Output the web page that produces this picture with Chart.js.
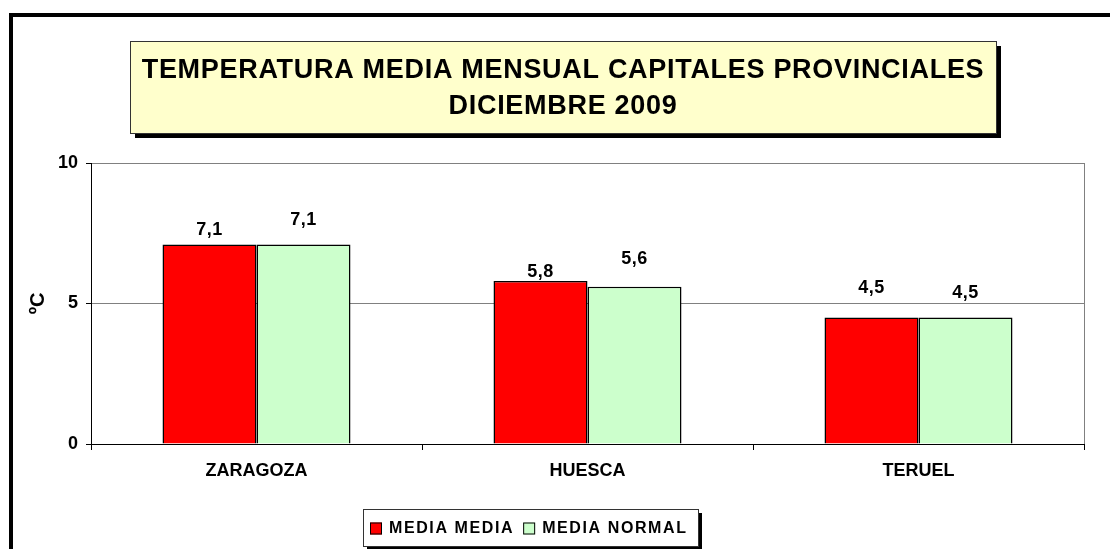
<!DOCTYPE html>
<html>
<head>
<meta charset="utf-8">
<script src="https://cdn.jsdelivr.net/npm/chart.js@4/dist/chart.umd.min.js"></script>
<style>
  html, body { margin: 0; padding: 0; background: #fff; }
  #wrap { width: 1110px; height: 549px; }
</style>
</head>
<body>
<div id="wrap"><canvas id="chart" width="1110" height="549"></canvas></div>
<script>
// Data
const TITLE_LINES = ["TEMPERATURA MEDIA MENSUAL CAPITALES PROVINCIALES", "DICIEMBRE 2009"];
const CITIES = ["ZARAGOZA", "HUESCA", "TERUEL"];
const MEDIA_MEDIA = [7.1, 5.8, 4.5];
const MEDIA_NORMAL = [7.1, 5.6, 4.5];
const SERIES_LABELS = ["MEDIA MEDIA", "MEDIA NORMAL"];
const Y_MIN = 0;
const Y_MAX = 10;
const Y_STEP = 5;
const Y_TITLE = "ºC";

// The value labels in the original were nudged by hand, so each one
// sits a different distance (px) above its bar.
const LABEL_LIFT = [
    [9, 4, 25],
    [19, 23, 20],
];

const FONT = 'Arial, "Liberation Sans", sans-serif';
Chart.defaults.font.family = FONT;
Chart.defaults.color = "#000";

// Outer frame, yellow title box, value labels and boxed legend
const framePlugin = {
    id: "frame",
    beforeDraw(chart) {
        const ctx = chart.ctx;
        ctx.save();
        ctx.fillStyle = "#fff";
        ctx.fillRect(0, 0, chart.width, chart.height);

        // thick outer border (only top and left fall inside the picture)
        ctx.strokeStyle = "#000";
        ctx.lineWidth = 4;
        ctx.strokeRect(11, 15, chart.width + 20, chart.height + 20);

        // title box with shadow
        const bx = 130, by = 41, bw = 866, bh = 92;
        ctx.fillStyle = "#000";
        ctx.fillRect(bx + 5, by + 5, bw, bh);
        ctx.fillStyle = "#FFFFCC";
        ctx.fillRect(bx, by, bw, bh);
        ctx.strokeStyle = "#333";
        ctx.lineWidth = 1;
        ctx.strokeRect(bx + 0.5, by + 0.5, bw, bh);

        ctx.fillStyle = "#000";
        ctx.font = "bold 27px " + FONT;
        ctx.letterSpacing = "0.7px";
        ctx.textAlign = "center";
        ctx.textBaseline = "alphabetic";
        ctx.fillText(TITLE_LINES[0], 563, 78);
        ctx.fillText(TITLE_LINES[1], 563, 114);
        ctx.restore();
    },
    afterDatasetsDraw(chart) {
        const ctx = chart.ctx;
        const area = chart.chartArea;
        ctx.save();
        // grey right edge of the plot area
        ctx.strokeStyle = "#808080";
        ctx.lineWidth = 1;
        ctx.beginPath();
        ctx.moveTo(Math.round(area.right) + 0.5, area.top);
        ctx.lineTo(Math.round(area.right) + 0.5, area.bottom);
        ctx.stroke();

        // value labels above the bars
        ctx.fillStyle = "#000";
        ctx.font = "bold 18px " + FONT;
        ctx.letterSpacing = "0.5px";
        ctx.textAlign = "center";
        ctx.textBaseline = "alphabetic";
        chart.data.datasets.forEach((ds, i) => {
            chart.getDatasetMeta(i).data.forEach((bar, j) => {
                const txt = ds.data[j].toFixed(1).replace(".", ",");
                ctx.fillText(txt, bar.x, bar.y - LABEL_LIFT[i][j]);
            });
        });
        ctx.restore();
    },
    afterDraw(chart) {
        // boxed legend with shadow
        const ctx = chart.ctx;
        const bx = 363, by = 509, bw = 335, bh = 37;
        ctx.save();
        ctx.fillStyle = "#000";
        ctx.fillRect(bx + 4, by + 4, bw, bh);
        ctx.fillStyle = "#fff";
        ctx.fillRect(bx, by, bw, bh);
        ctx.strokeStyle = "#333";
        ctx.lineWidth = 1;
        ctx.strokeRect(bx + 0.5, by + 0.5, bw, bh);

        ctx.font = "bold 16px " + FONT;
        ctx.letterSpacing = "1.6px";
        ctx.textAlign = "left";
        ctx.textBaseline = "middle";
        const cy = by + bh / 2 + 1;
        let x = bx + 7;
        chart.data.datasets.forEach((ds) => {
            ctx.fillStyle = ds.backgroundColor;
            ctx.fillRect(x, cy - 6, 12, 12);
            ctx.strokeStyle = "#000";
            ctx.strokeRect(x + 0.5, cy - 5.5, 11, 11);
            x += 19;
            ctx.fillStyle = "#000";
            ctx.fillText(ds.label, x, cy);
            x += ctx.measureText(ds.label).width + 9;
        });
        ctx.restore();
    },
};

new Chart(document.getElementById("chart"), {
    type: "bar",
    data: {
        labels: CITIES,
        datasets: [
            {
                label: SERIES_LABELS[0],
                data: MEDIA_MEDIA,
                backgroundColor: "#FF0000",
                borderColor: "#000",
                borderWidth: 1.5,
                categoryPercentage: 0.568,
                barPercentage: 1,
            },
            {
                label: SERIES_LABELS[1],
                data: MEDIA_NORMAL,
                backgroundColor: "#CCFFCC",
                borderColor: "#000",
                borderWidth: 1.5,
                categoryPercentage: 0.568,
                barPercentage: 1,
            },
        ],
    },
    options: {
        responsive: false,
        devicePixelRatio: 1,
        animation: false,
        layout: { padding: { top: 163, right: 26, bottom: 45, left: 0 } },
        plugins: {
            legend: { display: false },
            title: { display: false },
            tooltip: { enabled: false },
        },
        scales: {
            x: {
                grid: {
                    offset: true,
                    drawOnChartArea: false,
                    tickLength: 6,
                    color: "#000",
                },
                border: { color: "#000", width: 1 },
                ticks: { font: { size: 18, weight: "bold" }, color: "#000", padding: 10 },
                afterFit: s => { s.height = 60; },
            },
            y: {
                min: Y_MIN,
                max: Y_MAX,
                ticks: { stepSize: Y_STEP, font: { size: 18, weight: "bold" }, color: "#000", padding: 8 },
                grid: { color: "#808080", tickColor: "#000", tickLength: 5 },
                border: { color: "#000", width: 1 },
                title: {
                    display: true,
                    text: Y_TITLE,
                    font: { size: 20, weight: "bold" },
                    color: "#000",
                    padding: { top: 26, bottom: 0 },
                },
                afterFit: s => { s.width = 91; },
            },
        },
    },
    plugins: [framePlugin],
});
</script>
</body>
</html>
